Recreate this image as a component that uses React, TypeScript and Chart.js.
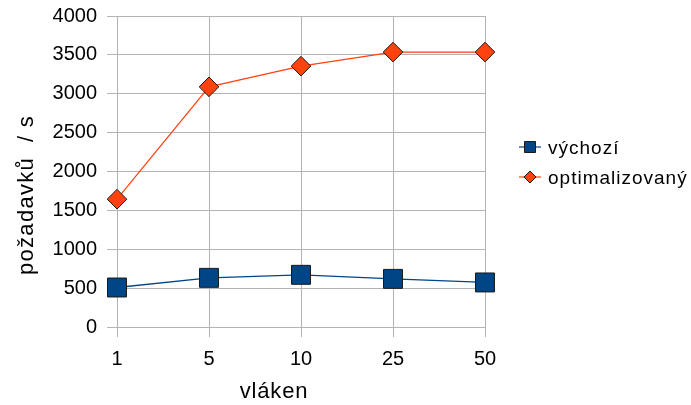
import React, { useEffect, useRef } from 'react';
import { Chart, registerables } from 'chart.js';

Chart.register(...registerables);

const threads = ['1', '5', '10', '25', '50'];
const defaultValues = [508, 632, 671, 619, 573];
const optimizedValues = [1644, 3089, 3355, 3536, 3536];
const seriesNames = ['výchozí', 'optimalizovaný'];
const xTitle = 'vláken';
const yTitle = 'požadavků  / s';

const FONT = '"Liberation Sans", Arial, sans-serif';
const BLUE = '#004586';
const ORANGE = '#ff420e';
const GRID = '#b3b3b3';

const annotatePlugin = {
  id: 'annotate',
  afterDraw(chart: any) {
    const ctx = chart.ctx;
    ctx.save();
    ctx.fillStyle = '#000';
    // axis titles
    ctx.font = `22px ${FONT}`;
    (ctx as any).letterSpacing = '0.8px';
    ctx.textAlign = 'center';
    ctx.textBaseline = 'middle';
    ctx.fillText(xTitle, 274, 392);
    ctx.save();
    (ctx as any).letterSpacing = '1.3px';
    ctx.translate(27, 195);
    ctx.rotate(-Math.PI / 2);
    ctx.fillText(yTitle, 0, 0);
    ctx.restore();

    // legend
    const items = [
      { y: 147, color: BLUE, shape: 'square' },
      { y: 177, color: ORANGE, shape: 'diamond' },
    ];
    items.forEach((it, i) => {
      ctx.strokeStyle = it.color;
      ctx.lineWidth = 1.2;
      ctx.beginPath();
      ctx.moveTo(519, it.y);
      ctx.lineTo(541, it.y);
      ctx.stroke();
      ctx.fillStyle = it.color;
      ctx.strokeStyle = '#1a1a1a';
      ctx.lineWidth = 1;
      ctx.beginPath();
      if (it.shape === 'square') {
        ctx.rect(530 - 5.5, it.y - 5.5, 11, 11);
      } else {
        ctx.moveTo(530, it.y - 6);
        ctx.lineTo(536, it.y);
        ctx.lineTo(530, it.y + 6);
        ctx.lineTo(524, it.y);
        ctx.closePath();
      }
      ctx.fill();
      ctx.stroke();
      ctx.fillStyle = '#000';
      ctx.font = `19px ${FONT}`;
      (ctx as any).letterSpacing = '1px';
      ctx.textAlign = 'left';
      ctx.textBaseline = 'middle';
      ctx.fillText(seriesNames[i], 548, it.y + 2);
    });
    ctx.restore();
  },
};

export default function App() {
  const ref = useRef<HTMLCanvasElement>(null);
  useEffect(() => {
    if (!ref.current) return;
    const chart = new Chart(ref.current, {
      type: 'line',
      data: {
        labels: threads,
        datasets: [
          {
            label: seriesNames[0],
            data: defaultValues,
            borderColor: BLUE,
            borderWidth: 1.3,
            backgroundColor: BLUE,
            pointStyle: 'rect',
            pointRadius: 13.4,
            pointHoverRadius: 13.4,
            pointBorderColor: '#1a1a1a',
            pointBorderWidth: 1,
            pointBackgroundColor: BLUE,
            tension: 0,
          },
          {
            label: seriesNames[1],
            data: optimizedValues,
            borderColor: ORANGE,
            borderWidth: 1.2,
            backgroundColor: ORANGE,
            pointStyle: 'rectRot',
            pointRadius: 9.8,
            pointHoverRadius: 9.8,
            pointBorderColor: '#1a1a1a',
            pointBorderWidth: 1,
            pointBackgroundColor: ORANGE,
            tension: 0,
          },
        ],
      },
      options: {
        responsive: false,
        animation: false,
        layout: { padding: { left: 0, top: 16, right: 206, bottom: 0 } },
        plugins: {
          legend: { display: false },
          tooltip: { enabled: false },
        },
        scales: {
          x: {
            type: 'category',
            offset: false,
            grid: { color: GRID, tickColor: GRID, tickLength: 10, lineWidth: 1 },
            border: { color: GRID },
            ticks: { color: '#000', font: { family: FONT, size: 20 }, padding: 10, maxRotation: 0 },
            afterFit(scale: any) {
              scale.height = 78;
            },
          },
          y: {
            min: 0,
            max: 4000,
            grid: { color: GRID, tickColor: GRID, tickLength: 10, lineWidth: 1 },
            border: { color: GRID },
            ticks: {
              stepSize: 500,
              color: '#000',
              font: { family: FONT, size: 20, lineHeight: 0.5 },
              padding: 10,
              callback: (v: any) => String(v),
            },
            afterFit(scale: any) {
              scale.width = 117;
            },
          },
        },
      },
      plugins: [annotatePlugin],
    });
    return () => chart.destroy();
  }, []);
  return (
    <div style={{ position: 'fixed', left: 0, top: 0, width: 691, height: 405, background: '#fff' }}>
      <canvas ref={ref} width={691} height={405} />
    </div>
  );
}
